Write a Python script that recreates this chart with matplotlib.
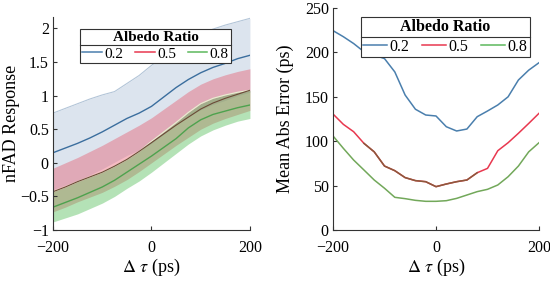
import numpy as np
import matplotlib
matplotlib.use("Agg")
import matplotlib.pyplot as plt
from matplotlib.lines import Line2D

plt.rcParams['font.family'] = ['Liberation Serif', 'DejaVu Serif']
plt.rcParams['mathtext.fontset'] = 'stix'

# left panel: nFAD response vs delta tau (mean and band)
tau_l = [-200, -175, -150, -125, -100, -75, -50, -25, 0, 25, 50, 75, 100, 125, 150, 175, 200]
blue_mean = [0.15, 0.22, 0.29, 0.37, 0.46, 0.56, 0.66, 0.74, 0.84, 0.98, 1.12, 1.24, 1.34, 1.42, 1.48, 1.55, 1.60]
blue_hi = [0.74, 0.81, 0.88, 0.95, 1.01, 1.06, 1.18, 1.30, 1.45, 1.58, 1.70, 1.82, 1.92, 1.99, 2.05, 2.10, 2.15]
blue_lo = [-0.40, -0.33, -0.26, -0.18, -0.09, 0.01, 0.11, 0.19, 0.29, 0.43, 0.57, 0.69, 0.79, 0.87, 0.93, 1.00, 1.05]
red_mean = [-0.43, -0.36, -0.28, -0.21, -0.14, -0.05, 0.05, 0.17, 0.30, 0.43, 0.56, 0.68, 0.80, 0.89, 0.96, 1.02, 1.08]
red_hi = [-0.08, 0.00, 0.08, 0.17, 0.26, 0.36, 0.46, 0.56, 0.67, 0.80, 0.93, 1.06, 1.17, 1.25, 1.31, 1.36, 1.40]
red_lo = [-0.73, -0.66, -0.58, -0.51, -0.44, -0.35, -0.25, -0.13, 0.00, 0.13, 0.26, 0.38, 0.50, 0.59, 0.66, 0.72, 0.78]
green_mean = [-0.66, -0.59, -0.52, -0.44, -0.36, -0.26, -0.14, -0.02, 0.10, 0.23, 0.36, 0.52, 0.64, 0.72, 0.77, 0.82, 0.86]
green_hi = [-0.43, -0.36, -0.28, -0.21, -0.14, -0.05, 0.05, 0.17, 0.32, 0.46, 0.60, 0.75, 0.88, 0.96, 1.01, 1.05, 1.08]
green_lo = [-0.88, -0.82, -0.76, -0.68, -0.60, -0.50, -0.38, -0.27, -0.14, 0.00, 0.14, 0.28, 0.40, 0.49, 0.56, 0.62, 0.66]

# right panel: mean abs error
tau_r = [-200, -180, -160, -140, -120, -100, -80, -60, -40, -20, 0, 20, 40, 60, 80, 100, 120, 140, 160, 180, 200]
mae_02 = [224.5, 217.7, 210, 200.8, 197, 193, 178, 152, 136, 129.5, 128.4, 116.3, 111.5, 113.7, 127.6, 134, 140.8, 150, 168.9, 180, 188.4]
mae_05 = [130.6, 119, 110.7, 97.6, 88, 72, 66.8, 59, 55.6, 54.4, 48.8, 51.8, 54.4, 56.3, 64.5, 69.4, 89.3, 98.3, 108.9, 120, 131.4]
mae_08 = [105.9, 92, 78.8, 67.6, 56.3, 47, 36.8, 35.3, 33.4, 32.3, 32.3, 33, 35.6, 39.4, 43.2, 45.8, 50.7, 60, 72, 88, 98.3]

labels = ['0.2', '0.5', '0.8']
c_blue = '#4a7fad'
c_red = '#e8384f'
c_green = '#5cb85c'
axis_col = '#333333'

fig = plt.figure(figsize=(5.5, 2.81), dpi=100)
ax1 = fig.add_axes([0.0964, 0.1815, 0.358, 0.758])
ax2 = fig.add_axes([0.6055, 0.1815, 0.3745, 0.790])

# --- left
ax1.fill_between(tau_l, blue_lo, blue_hi, color='#dce4ee', lw=0)
ax1.plot(tau_l, blue_hi, color='#b3c5d8', lw=0.8)
ax1.fill_between(tau_l, red_lo, red_hi, color='#e8384f', alpha=0.34, lw=0)
ax1.fill_between(tau_l, green_lo, green_hi, color='#45b84a', alpha=0.4, lw=0)
ax1.plot(tau_l, green_hi, color='#e8f0d0', lw=0.8)
ax1.plot(tau_l, blue_mean, color='#3b6e9e', lw=1.0)
ax1.plot(tau_l, red_mean, color='#6b4a36', lw=0.8)
ax1.plot(tau_l, green_mean, color='#4ea24e', lw=1.0)
ax1.set_xlim(-200, 200)
ax1.set_ylim(-1, 2.17)
ax1.set_yticks([-1, -0.5, 0, 0.5, 1, 1.5, 2])
ax1.set_yticklabels(['\u22121', '\u22120.5', '0', '0.5', '1', '1.5', '2'])
ax1.set_ylabel('nFAD Response', fontsize=13)
ax1.yaxis.set_label_coords(-0.168, 0.5)

# --- right
ax2.plot(tau_r, mae_02, color=c_blue, lw=1.1)
ax2.plot(tau_r, mae_05, color=c_red, lw=1.1)
ax2.plot(tau_r[3:15], mae_05[3:15], color='#8b5a3c', lw=1.1)
ax2.plot(tau_r, mae_08, color='#72a85a', lw=1.1)
ax2.set_xlim(-200, 200)
ax2.set_ylim(0, 250)
ax2.set_yticks([0, 50, 100, 150, 200, 250])
ax2.set_ylabel('Mean Abs Error (ps)', fontsize=13)
ax2.yaxis.set_label_coords(-0.19, 0.5)

for ax in (ax1, ax2):
    ax.set_xticks([-200, 0, 200])
    ax.set_xticklabels(['\u2212200', '0', '200'])
    ax.set_xlabel(r'$\Delta\ \tau$ (ps)', fontsize=13, labelpad=1)
    ax.tick_params(direction='in', labelsize=11.5, color=axis_col, length=3)
    ax.tick_params(axis='x', pad=7)
    ax.tick_params(axis='y', pad=3)
    for s in ('top', 'right'):
        ax.spines[s].set_visible(False)
    for s in ('left', 'bottom'):
        ax.spines[s].set_color(axis_col)
        ax.spines[s].set_linewidth(0.8)

handles = [Line2D([], [], color=c, lw=1.1) for c in (c_blue, c_red, c_green)]
legs = []
for ax, loc, fs, hl, cs in ((ax1, (0.137, 0.784), 11, 1.3, 0.75), (ax2, (0.136, 0.779), 11.5, 1.5, 0.8)):
    leg = ax.legend(handles, labels, ncol=3, loc='lower left', bbox_to_anchor=loc,
                    title='Albedo Ratio', fontsize=fs, frameon=True, fancybox=False,
                    edgecolor='#333333', handlelength=hl, handletextpad=0.15,
                    columnspacing=cs, borderpad=0.15, borderaxespad=0, framealpha=1,
                    labelspacing=0.2)
    leg.get_title().set_fontweight('bold')
    leg.get_title().set_fontsize(fs)
    leg.get_frame().set_linewidth(0.8)
    legs.append(leg)

fig.canvas.draw()
inv = fig.transFigure.inverted()
for leg in legs:
    fb = leg.get_frame().get_window_extent()
    tb = leg.get_title().get_window_extent()
    y = tb.y0 - 1.5
    (x0, yy), (x1, _) = inv.transform([(fb.x0, y), (fb.x1, y)])
    fig.add_artist(Line2D([x0, x1], [yy, yy], color='#333333', lw=0.8, transform=fig.transFigure))

fig.savefig('out.png', dpi=100)
